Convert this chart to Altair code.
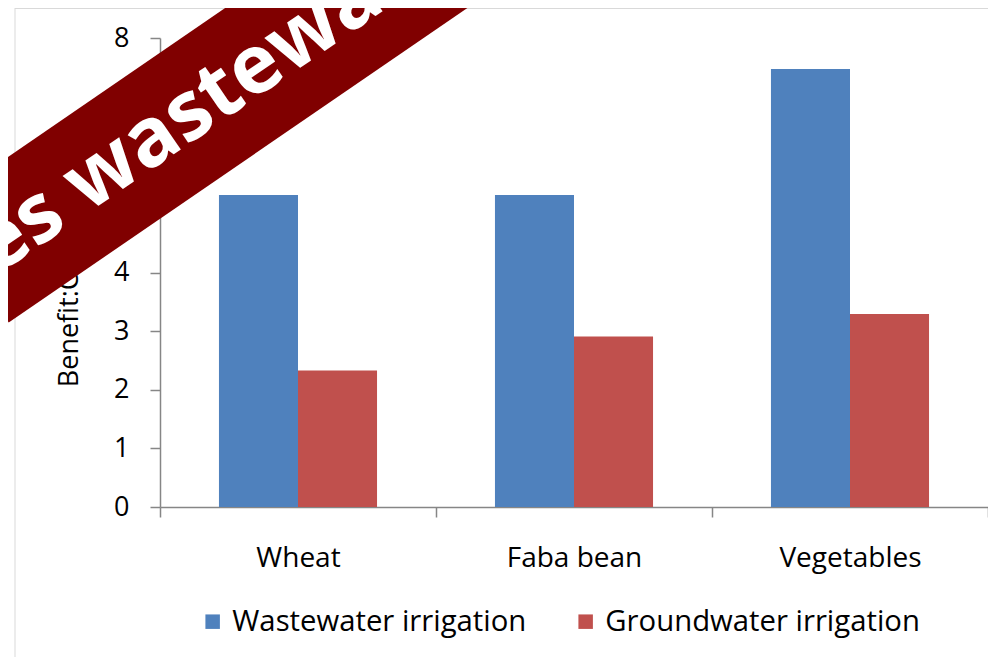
import altair as alt
import pandas as pd

crops = ["Wheat", "Faba bean", "Vegetables"]
series = ["Wastewater irrigation", "Groundwater irrigation"]
wastewater = [5.32, 5.32, 7.47]
groundwater = [2.33, 2.91, 3.29]
colors = ["#4F81BD", "#C0504D"]
y_ticks = [0, 1, 2, 3, 4, 5, 6, 7, 8]
y_title = "Benefit:Cost ratio"
banner_text = ["es wastewater"]

rows = []
for c, w, g in zip(crops, wastewater, groundwater):
    rows.append({"crop": c, "series": series[0], "value": w})
    rows.append({"crop": c, "series": series[1], "value": g})
df = pd.DataFrame(rows)

FONT = "Open Sans"
W, H = 828, 469
AX = "#868686"

bars = alt.Chart(df).mark_bar().encode(
    x=alt.X("crop:N", sort=crops,
            scale=alt.Scale(paddingInner=0, paddingOuter=0),
            axis=alt.Axis(title=None, labelAngle=0, labelFontSize=28, labelFont=FONT,
                          labelColor="black", domainColor=AX, domainWidth=1.5,
                          tickColor=AX, tickWidth=1.5, tickSize=10, tickBand="extent",
                          labelPadding=27, grid=False)),
    xOffset=alt.XOffset("series:N", sort=series,
                        scale=alt.Scale(paddingInner=0, paddingOuter=0.746)),
    y=alt.Y("value:Q", scale=alt.Scale(domain=[0, 8], nice=False),
            axis=alt.Axis(values=y_ticks, title=y_title, titleFont=FONT, titleFontSize=27,
                          titleFontWeight="normal", titleColor="black", titleX=-77,
                          titleY=H / 2 + 5, labelFontSize=27, labelFont=FONT, labelColor="black",
                          labelPadding=21, tickSize=10, tickColor=AX, tickWidth=1.5,
                          domainColor=AX, domainWidth=1.5, grid=False)),
    color=alt.Color("series:N", sort=series,
                    scale=alt.Scale(domain=series, range=colors),
                    legend=alt.Legend(orient="none", legendX=38, legendY=569,
                                      direction="horizontal", title=None,
                                      symbolType="square", symbolSize=210,
                                      symbolStrokeWidth=0, labelFontSize=29.3,
                                      labelFont=FONT, labelColor="black", labelLimit=0,
                                      columnPadding=44, labelOffset=5)),
)

one = pd.DataFrame({"k": [0]})

border = alt.Chart(one).mark_rule(color="#d9d9d9", strokeWidth=1).encode(
    x=alt.value(-145), x2=alt.value(-145), y=alt.value(-30), y2=alt.value(640)
)
border_top = alt.Chart(one).mark_rule(color="#d9d9d9", strokeWidth=1).encode(
    x=alt.value(-145), x2=alt.value(840), y=alt.value(-29.5), y2=alt.value(-29.5)
)

banner = alt.Chart(one).mark_rule(color="#800000", strokeWidth=137, strokeCap="butt").encode(
    x=alt.value(-190), y=alt.value(228), x2=alt.value(440), y2=alt.value(-204)
)

banner_df = pd.DataFrame({"t": banner_text})
banner_label = alt.Chart(banner_df).mark_text(
    font=FONT, fontSize=82, fontWeight="bold", color="white", angle=325.6,
    align="left", baseline="alphabetic"
).encode(x=alt.value(-164), y=alt.value(238), text="t:N")

chart = alt.layer(border, border_top, bars, banner, banner_label).properties(
    width=W, height=H,
    padding={"left": 152, "top": 30, "right": 0, "bottom": 150},
    autosize=alt.AutoSizeParams(type="none"),
).configure_view(stroke=None)

chart.save("out.html", embed_options={"renderer": "svg", "actions": False})
